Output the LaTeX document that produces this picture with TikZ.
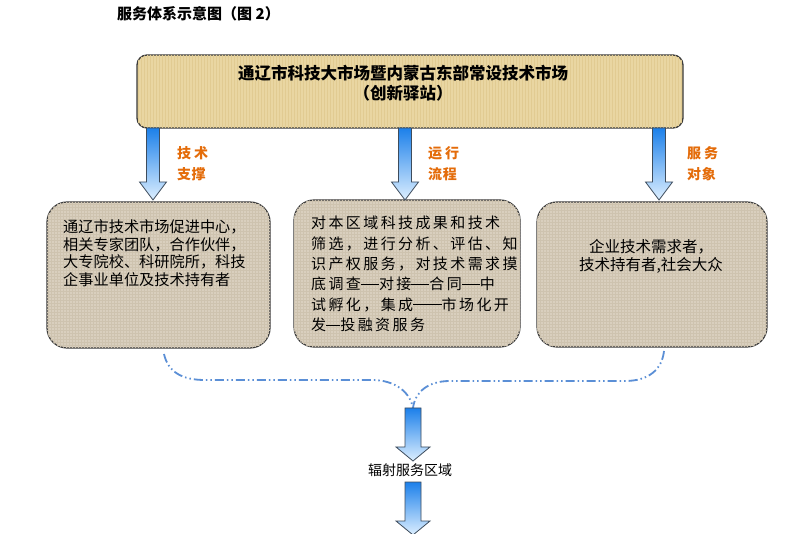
\documentclass[tikz,border=0pt]{standalone}
\usepackage{fontspec}
\usetikzlibrary{patterns}
\newfontfamily\cjk{Noto Sans CJK SC}
\newfontfamily\cjkwide{Noto Sans CJK SC}[LetterSpace=16]
\newfontfamily\cjklbl{Noto Sans CJK SC}[LetterSpace=4]
\newcommand\cdash[1][0.95em]{\rule[0.33em]{#1}{0.06em}}
\definecolor{parch}{HTML}{E9D6A2}
\definecolor{parchdark}{HTML}{E1CB92}
\definecolor{linen}{HTML}{D9CFBE}
\definecolor{linendark}{HTML}{CEC3AF}
\definecolor{orng}{HTML}{E46C0A}
\definecolor{bluetop}{HTML}{1C80EA}
\definecolor{bluebot}{HTML}{DDEFFF}
\definecolor{bracec}{HTML}{5B8FD6}
\definecolor{edgec}{HTML}{3B3B3B}
\definecolor{arrowedge}{HTML}{3E4C5C}
\begin{document}
\begin{tikzpicture}[x=1pt,y=-1pt,
  topbox/.style={draw=edgec, line width=1.3pt, fill=parch, rounded corners=10pt, inner sep=0pt,
     postaction={pattern=vertical lines, pattern color=parchdark}},
  subbox/.style={draw=edgec, line width=1.2pt, fill=linen, rounded corners=20pt, inner sep=0pt,
     postaction={pattern=grid, pattern color=linendark}},
  blockarrow/.style={draw=arrowedge, line width=0.8pt, top color=bluetop, bottom color=bluebot},
  lbl/.style={text=orng, font=\cjklbl\bfseries\fontsize{14}{21}\selectfont, align=left, inner sep=0pt, anchor=west},
  boxtext/.style={font=\cjk\fontsize{15}{17.5}\selectfont, align=left, inner sep=0pt, anchor=west},
  bracestyle/.style={draw=bracec, line width=1.8pt, dash pattern=on 9pt off 3pt on 1.5pt off 3pt on 1.5pt off 3pt}
]
\useasboundingbox (0,0) rectangle (790,534);
\fill[white] (0,0) rectangle (790,534);

% title
\node[inner sep=0pt, anchor=west, font=\cjk\bfseries\fontsize{15}{18}\selectfont] (title) at (117,14) {服务体系示意图（图 2）};

% top box
\node[topbox, minimum width=546pt, minimum height=73pt] (T) at (410,91.5) {};
\node[inner sep=0pt, align=center, font=\cjk\bfseries\fontsize{16.5}{20}\selectfont] (Ttext) at (403,83) {通辽市科技大市场暨内蒙古东部常设技术市场\\（创新驿站）};

% three boxes
\node[subbox, minimum width=223pt, minimum height=146pt] (L) at (158.5,275) {};
\node[subbox, minimum width=226pt, minimum height=147pt] (M) at (407,273.5) {};
\node[subbox, minimum width=230pt, minimum height=145pt] (R) at (652,274.5) {};

\node[boxtext, font=\cjk\fontsize{15.2}{17.5}\selectfont] (Ltext) at (63,253) {通辽市技术市场促进中心，\\相关专家团队，合作伙伴，\\大专院校、科研院所，科技\\企事业单位及技术持有者};
\node[boxtext, font=\cjkwide\fontsize{15}{20.4}\selectfont] (Mtext) at (311,274) {对本区域科技成果和技术\\筛选，进行分析、评估、知\\识产权服务，对技术需求摸\\底调查\cdash[1.2em]对接\cdash[1.2em]合同\cdash[1.2em]中\\试孵化，集成\cdash\cdash 市场化开\\发\cdash 投融资服务};
\node[boxtext, anchor=center, align=center, font=\cjk\fontsize{15.5}{18}\selectfont] (Rtext) at (651,256) {企业技术需求者，\\技术持有者,社会大众};

% arrows from top box
\foreach \cx in {153,405,659}{
  \path[blockarrow] (\cx-6.5,128) -- (\cx+6.5,128) -- (\cx+6.5,182) -- (\cx+13.5,182)
     -- (\cx,200) -- (\cx-13.5,182) -- (\cx-6.5,182) -- cycle;
}

% labels
\node[lbl] (lab1) at (177,163.5) {技\hspace{3pt}术\\支撑};
\node[lbl] (lab2) at (428,163.5) {运\hspace{3pt}行\\流程};
\node[lbl] (lab3) at (687,163.5) {服\hspace{3pt}务\\对象};

% brace
\coordinate (bl) at (164,354);
\coordinate (br) at (664,351);
\coordinate (bc) at (413,408);
\path[bracestyle] (bl) .. controls (168,372) and (182,380) .. (205,380) -- (372,380)
   .. controls (395,380) and (410,392) .. (bc);
\path[bracestyle] (br) .. controls (662,370) and (648,381) .. (625,381) -- (450,381)
   .. controls (428,381) and (415,392) .. (bc);

% bottom arrows
\path[blockarrow] (405,408) -- (421,408) -- (421,447) -- (430,447) -- (413,461)
   -- (396,447) -- (405,447) -- cycle;
\node[inner sep=0pt, font=\cjk\fontsize{14}{16}\selectfont] (area) at (410,470) {辐射服务区域};
\path[blockarrow] (405,482) -- (421,482) -- (421,521) -- (430,521) -- (413,535)
   -- (396,521) -- (405,521) -- cycle;
\end{tikzpicture}
\end{document}
